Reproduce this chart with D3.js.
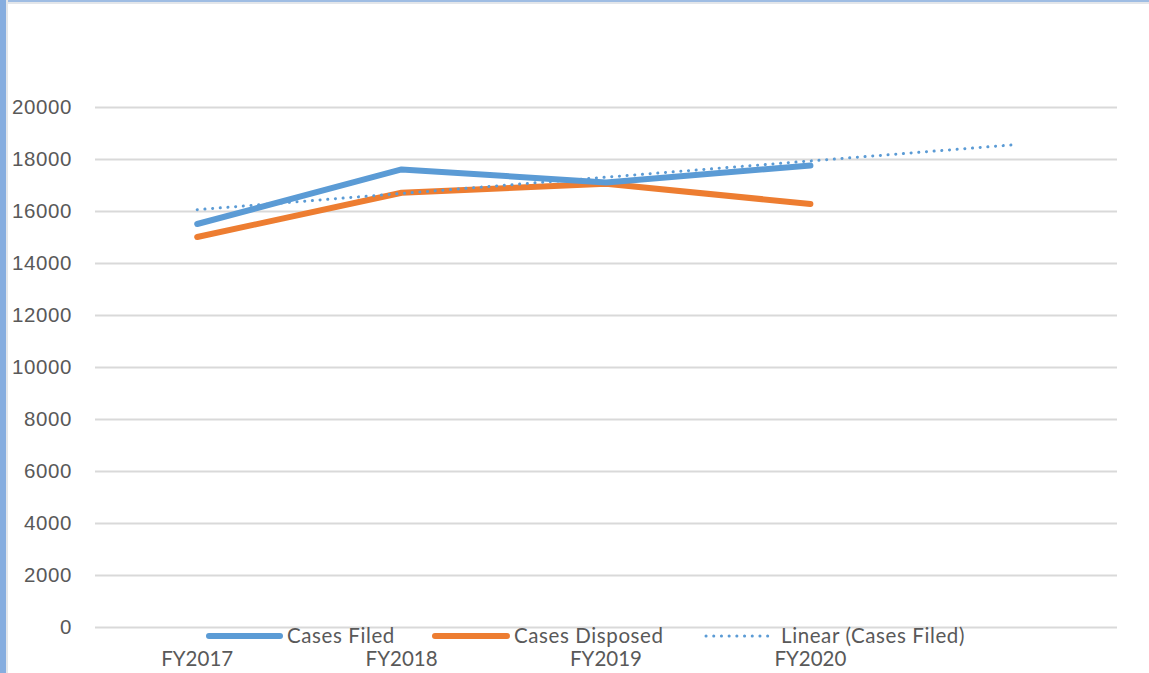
<!DOCTYPE html>
<meta charset="UTF-8">
<title>Cases Filed vs Disposed</title>
<style>
  body { margin: 0; background: #fff; }
  svg { display: block; font-family: Lato, "Open Sans", sans-serif; }
</style>
<svg width="1149" height="673"></svg>
<script src="https://d3js.org/d3.v7.min.js"></script>
<script>
// values
var years = ["FY2017", "FY2018", "FY2019", "FY2020"];
var slots = ["FY2017", "FY2018", "FY2019", "FY2020", "FY2021"];  // trend forecasts one period ahead
var casesFiled = [15500, 17600, 17100, 17750];
var casesDisposed = [15000, 16700, 17050, 16270];
var trendFiled = [16050, 18550];   // Excel linear trendline, first and forecast ends
var yTicks = [0, 2000, 4000, 6000, 8000, 10000, 12000, 14000, 16000, 18000, 20000];

var svg = d3.select("svg"),
    margin = {top: 107, right: 32, bottom: 46, left: 95},
    width = 1149 - margin.left - margin.right,
    height = 673 - margin.top - margin.bottom;

// window frame like the screenshot
svg.append("rect").attr("x", 0).attr("y", 0).attr("width", 1149).attr("height", 4).attr("fill", "#e3e6ea");
svg.append("rect").attr("x", 0).attr("y", 0).attr("width", 1149).attr("height", 2).attr("fill", "#9fbde3");
svg.append("rect").attr("x", 0).attr("y", 0).attr("width", 8).attr("height", 673).attr("fill", "#e3e6ea");
svg.append("rect").attr("x", 0).attr("y", 0).attr("width", 6).attr("height", 673).attr("fill", "#86addf");

var g = svg.append("g").attr("transform", "translate(" + margin.left + "," + margin.top + ")");

var x = d3.scalePoint().domain(slots).range([0, width]).padding(0.5);
var y = d3.scaleLinear().domain([0, 20000]).range([height + 0, 0]);

// gridlines + y labels
g.append("g")
    .call(d3.axisLeft(y).tickValues(yTicks).tickSize(-width).tickFormat(d3.format("d")).tickPadding(23))
    .call(function(a) { a.select(".domain").remove(); })
    .call(function(a) {
      a.selectAll("line").attr("stroke", "#d9d9d9").attr("stroke-width", 2);
      a.selectAll("text").attr("fill", "#595959").style("font-size", "20.5px").style("letter-spacing", "0.6px");
    });

// category labels
g.append("g")
    .attr("transform", "translate(0," + height + ")")
    .selectAll("text")
    .data(years)
    .join("text")
      .attr("x", function(d) { return x(d); })
      .attr("y", 39)
      .attr("text-anchor", "middle")
      .attr("fill", "#595959")
      .style("font-size", "20.5px")
      .text(function(d) { return d; });

var line = d3.line()
    .x(function(d, i) { return x(years[i]); })
    .y(function(d) { return y(d); });

g.append("path")
    .datum(casesDisposed)
    .attr("fill", "none")
    .attr("stroke", "#ed7d31")
    .attr("stroke-width", 6)
    .attr("stroke-linejoin", "round")
    .attr("stroke-linecap", "round")
    .attr("d", line);

g.append("path")
    .datum(casesFiled)
    .attr("fill", "none")
    .attr("stroke", "#5b9bd5")
    .attr("stroke-width", 6)
    .attr("stroke-linejoin", "round")
    .attr("stroke-linecap", "round")
    .attr("d", line);

g.append("line")
    .attr("x1", x(slots[0])).attr("y1", y(trendFiled[0]))
    .attr("x2", x(slots[4])).attr("y2", y(trendFiled[1]))
    .attr("stroke", "#5b9bd5")
    .attr("stroke-width", 3)
    .attr("stroke-linecap", "round")
    .attr("stroke-dasharray", "0.1 7.6");

// legend
var legend = [
  {name: "Cases Filed", color: "#5b9bd5", x: 209, w: 71, dotted: false},
  {name: "Cases Disposed", color: "#ed7d31", x: 435, w: 72, dotted: false},
  {name: "Linear (Cases Filed)", color: "#5b9bd5", x: 706, w: 64, dotted: true}
];
var lg = svg.append("g").selectAll("g").data(legend).join("g");
lg.append("line")
    .attr("x1", function(d) { return d.x; })
    .attr("x2", function(d) { return d.x + d.w; })
    .attr("y1", 636).attr("y2", 636)
    .attr("stroke", function(d) { return d.color; })
    .attr("stroke-width", function(d) { return d.dotted ? 3 : 6; })
    .attr("stroke-linecap", "round")
    .attr("stroke-dasharray", function(d) { return d.dotted ? "0.1 7.6" : null; });
lg.append("text")
    .attr("x", function(d) { return d.x + d.w + (d.dotted ? 11 : 7); })
    .attr("y", 636)
    .attr("dy", "0.35em")
    .attr("fill", "#595959")
    .style("font-size", "20.5px")
    .style("letter-spacing", "0.6px")
    .text(function(d) { return d.name; });
</script>
